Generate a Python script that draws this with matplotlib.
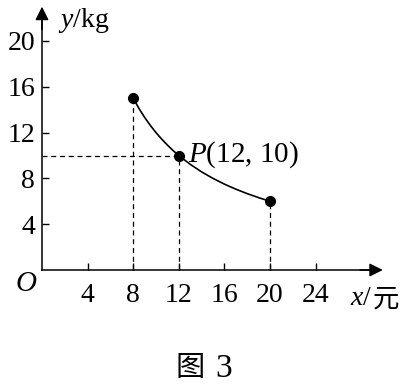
import matplotlib
matplotlib.use("Agg")
import matplotlib.pyplot as plt

plt.rcParams['font.family'] = ['Liberation Serif', 'Noto Sans CJK SC']
plt.rcParams['mathtext.fontset'] = 'custom'
plt.rcParams['mathtext.rm'] = 'Liberation Serif'
plt.rcParams['mathtext.it'] = 'Liberation Serif:italic'

# curve
curve_x = [8, 8.5, 9, 9.5, 10, 10.5, 11, 11.5, 12, 13, 14, 15, 16, 17, 18, 19, 20]
curve_y = [15, 14.12, 13.33, 12.63, 12, 11.43, 10.91, 10.43, 10, 9.23, 8.57,
           8, 7.5, 7.06, 6.67, 6.32, 6]
pts_x = [8, 12, 20]
pts_y = [15, 10, 6]
xticks = [4, 8, 12, 16, 20, 24]
yticks = [4, 8, 12, 16, 20]
x_end = 29.9
y_end = 23.0

fig = plt.figure(figsize=(4.03, 3.87), dpi=100)
ax = fig.add_axes([0, 0, 1, 1])
ax.set_xlim(-42 / 11.4, (403 - 42) / 11.4)
ax.set_ylim(-117 / 11.45, 270 / 11.45)

for s in ['top', 'right']:
    ax.spines[s].set_visible(False)
ax.spines['left'].set_position(('data', 0))
ax.spines['bottom'].set_position(('data', 0))
ax.spines['left'].set_bounds(0, y_end - 0.5)
ax.spines['bottom'].set_bounds(0, x_end - 0.5)
for s in ['left', 'bottom']:
    ax.spines[s].set_linewidth(1.1)

ax.set_xticks(xticks)
ax.set_yticks(yticks)
ax.tick_params(direction='in', length=5, width=1, labelsize=20)
ax.tick_params(axis='x', pad=9.5)
ax.tick_params(axis='y', pad=5)

arrow = dict(arrowstyle='-|>,head_length=8,head_width=4', mutation_scale=1,
             color='black', lw=1.1, shrinkA=0, shrinkB=0)
ax.annotate('', xy=(x_end, 0), xytext=(x_end - 2, 0), arrowprops=arrow)
ax.annotate('', xy=(0, y_end), xytext=(0, y_end - 2), arrowprops=arrow)

# dashed guides
for x, y in zip(pts_x, pts_y):
    ax.plot([x, x], [0, y], ls=(0, (4, 3)), color='black', lw=0.9)
ax.plot([0, pts_x[1]], [pts_y[1], pts_y[1]], ls=(0, (4, 3)), color='black', lw=0.9)

ax.plot(curve_x, curve_y, color='black', lw=1.2)
ax.plot(pts_x, pts_y, 'o', color='black', ms=7)

ax.text(-1.35, -1.25, '$O$', fontsize=21, ha='center', va='center')
ax.text(1.4, 21.8, '$y$/kg', fontsize=20, ha='left', va='center')
ax.text(27.0, -2.5, '$x$/', fontsize=20, ha='left', va='center')
ax.text(29.0, -2.5, '元', fontsize=19, ha='left', va='center',
        family=['Noto Sans CJK SC'])
ax.text(12.8, 10.1, '$P$(12, 10)', fontsize=21, ha='left', va='center')
ax.text(13.0, -8.6, '图', fontsize=21, ha='center', va='center',
        family=['Noto Sans CJK SC'], fontweight='light')
ax.text(15.96, -8.6, '3', fontsize=24, ha='center', va='center')

fig.savefig('out.png', dpi=100)
